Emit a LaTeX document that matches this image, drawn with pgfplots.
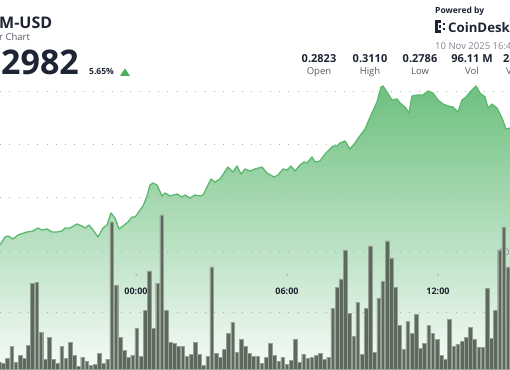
\documentclass[border=0pt]{standalone}
\usepackage{pgfplots}
\pgfplotsset{compat=1.18}
\usepackage{pgfplotstable}
\usepackage{fontspec}
\setmainfont{Open Sans}
\definecolor{linegreen}{RGB}{92,184,110}
\definecolor{topg}{RGB}{110,192,128}
\definecolor{midg}{RGB}{198,231,204}
\definecolor{botg}{RGB}{246,251,247}
\definecolor{barfill}{RGB}{94,105,94}
\definecolor{baredge}{RGB}{150,160,150}
\definecolor{gridc}{RGB}{170,175,175}
\definecolor{dark}{RGB}{29,36,51}
\definecolor{graytxt}{RGB}{130,135,145}
\definecolor{labtxt}{RGB}{85,90,100}
\definecolor{upgreen}{RGB}{76,175,90}

\pgfplotstableread{
x y
0 124
5 132
8 133
13 130
18 134
27 137
33 138
38 141
42 139
47 140
52 137
57 137
62 138
65 141
70 141
77 145
82 143
85 141
89 144
93 139
98 132
103 141
107 144
111 156
115 151
119 140
123 143
128 147
132 152
135 152
138 156
143 163
147 173
150 184
153 186
157 184
162 173
165 176
170 173
177 175
182 172
185 174
190 171
195 174
200 173
203 174
207 182
211 190
215 187
220 190
224 196
228 202
233 197
237 203
241 195
245 200
250 198
255 200
262 202
267 196
274 192
278 194
283 200
287 199
291 203
295 198
300 204
304 207
307 206
312 212
315 207
320 208
325 215
333 223
337 223
340 226
345 228
350 220
355 226
359 232
365 240
371 254
377 267
381 282
383 283
387 277
392 269
397 270
400 266
405 262
409 256
412 273
418 274
423 274
428 278
433 276
438 269
443 265
448 263
453 262
458 257
462 269
466 272
470 277
476 283
480 276
485 272
488 261
492 265
497 261
502 251
506 240
510 241
}\price

\pgfplotstableread{
x h
-0.87 7
3.30 6
7.47 11
11.64 23
15.81 7
19.98 14
24.15 11
28.32 24
32.49 86
36.66 87
40.83 37
45.00 10
49.17 32
53.34 10
57.51 6
61.68 23
65.85 11
70.02 27
74.19 14
78.36 3
82.53 12
86.70 8
90.87 4
95.04 5
99.21 16
103.38 6
107.55 10
111.72 147
115.89 84
120.06 32
124.23 19
128.40 12
132.57 14
136.74 41
140.91 13
145.08 59
149.25 98
153.42 41
157.59 86
161.76 154
165.93 59
170.10 27
174.27 26
178.44 23
182.61 23
186.78 13
190.95 15
195.12 27
199.29 15
203.46 4
207.63 13
211.80 102
215.97 16
220.14 12
224.31 20
228.48 36
232.65 47
236.82 17
240.99 30
245.16 23
249.33 16
253.50 13
257.67 13
261.84 6
266.01 12
270.18 26
274.35 14
278.52 8
282.69 12
286.86 5
291.03 9
295.20 30
299.37 7
303.54 15
307.71 11
311.88 12
316.05 14
320.22 16
324.39 10
328.56 12
332.73 61
336.90 82
341.07 90
345.24 119
349.41 56
353.58 33
357.75 67
361.92 15
366.09 61
370.26 123
374.43 17
378.60 71
382.77 88
386.94 128
391.11 111
395.28 82
399.45 44
403.62 20
407.79 48
411.96 36
416.13 55
420.30 21
424.47 26
428.64 44
432.81 36
436.98 30
441.15 14
445.32 10
449.49 50
453.66 23
457.83 25
462.00 28
466.17 32
470.34 42
474.51 30
478.68 22
482.85 22
487.02 81
491.19 31
495.36 59
499.53 119
503.70 142
507.87 102
}\bars

\begin{document}
\begin{tikzpicture}
\fill[white] (0,0) rectangle (510pt,369pt);
\begin{axis}[at={(0,0)}, anchor=south west, scale only axis,
  width=510pt, height=369pt, xmin=0, xmax=510, ymin=0, ymax=369,
  hide axis, clip=true]
% price area
\addplot[draw=none, top color=topg, middle color=midg, bottom color=botg] table[x=x,y=y] {\price} \closedcycle;
% grid
\foreach \g in {278,225,172,118,57}{
  \edef\tmp{\noexpand\draw[gridc, line width=0.8pt, dash pattern=on 0.8pt off 8.5pt] (axis cs:0,\g) -- (axis cs:510,\g);}\tmp
}
% price line
\addplot[linegreen, line width=1.3pt, line join=round] table[x=x,y=y] {\price};
% right label behind bars
\node[anchor=base west, inner sep=0, text=graytxt, font=\fontsize{9}{9}\selectfont] at (axis cs:499,113) {20};
% time labels
\node[anchor=base, inner sep=0, text=dark, font=\bfseries\fontsize{9}{9}\selectfont] at (axis cs:136,75) {00:00};
\node[anchor=base, inner sep=0, text=dark, font=\bfseries\fontsize{9}{9}\selectfont] at (axis cs:287,75) {06:00};
\node[anchor=base, inner sep=0, text=dark, font=\bfseries\fontsize{9}{9}\selectfont] at (axis cs:438,75) {12:00};
\fill[dark] (axis cs:136,94) circle (0.5pt);
\fill[dark] (axis cs:287,94) circle (0.5pt);
\fill[dark] (axis cs:438,94) circle (0.5pt);
% volume bars
\addplot[ybar, bar width=3.7pt, bar shift=0pt, fill=barfill, draw=baredge, line width=0.35pt] table[x=x,y=h] {\bars};
\end{axis}
% header
\node[anchor=base west, inner sep=0, text=dark, font=\bfseries\fontsize{16}{16}\selectfont] at (-1pt,340pt) {M-USD};
\node[anchor=base west, inner sep=0, text=labtxt, font=\fontsize{9.5}{9.5}\selectfont] at (-1pt,328pt) {r Chart};
\node[anchor=base west, inner sep=0, text=dark, font=\bfseries\fontsize{34}{34}\selectfont] at (1pt,294pt) {2982};
\node[anchor=base west, inner sep=0, text=dark, font=\bfseries\fontsize{8.5}{8.5}\selectfont] at (89pt,294pt) {5.65\%};
\fill[upgreen] (120pt,293pt) -- (130pt,293pt) -- (125pt,300.5pt) -- cycle;
% powered by
\node[anchor=base west, inner sep=0, text=dark, font=\bfseries\fontsize{8.5}{8.5}\selectfont] at (435pt,355pt) {Powered by};
\fill[dark] (435pt,336pt) rectangle (437.6pt,349pt);
\fill[dark] (435pt,346.4pt) rectangle (441pt,349pt);
\fill[dark] (435pt,336pt) rectangle (441pt,338.6pt);
\fill[dark] (439pt,341.4pt) rectangle (441pt,343.6pt);
\fill[dark] (443pt,344pt) rectangle (445.2pt,346.2pt);
\fill[dark] (443pt,339pt) rectangle (445.2pt,341.2pt);
\node[anchor=base west, inner sep=0, text=dark, font=\bfseries\fontsize{13.2}{13.2}\selectfont] at (448pt,336pt) {CoinDesk};
\node[anchor=base west, inner sep=0, text=graytxt, font=\fontsize{9.5}{9.5}\selectfont] at (435pt,319pt) {10 Nov 2025 16:49};
% stats
\foreach \xx/\vv/\ll in {319/0.2823/Open, 370/0.3110/High, 420/0.2786/Low, 472/96.11 M/Vol}{
  \node[anchor=base, inner sep=0, text=dark, font=\bfseries\fontsize{11}{11}\selectfont] at (\xx pt,306pt) {\vv};
  \node[anchor=base, inner sep=0, text=labtxt, font=\fontsize{9.5}{9.5}\selectfont] at (\xx pt,294pt) {\ll};
}
\node[anchor=base west, inner sep=0, text=dark, font=\bfseries\fontsize{11}{11}\selectfont] at (503pt,306pt) {28.63 M};
\node[anchor=base west, inner sep=0, text=labtxt, font=\fontsize{9.5}{9.5}\selectfont] at (506pt,294pt) {Vwap};
\pgfresetboundingbox
\useasboundingbox (0,0) rectangle (510pt,369pt);
\end{tikzpicture}
\end{document}
